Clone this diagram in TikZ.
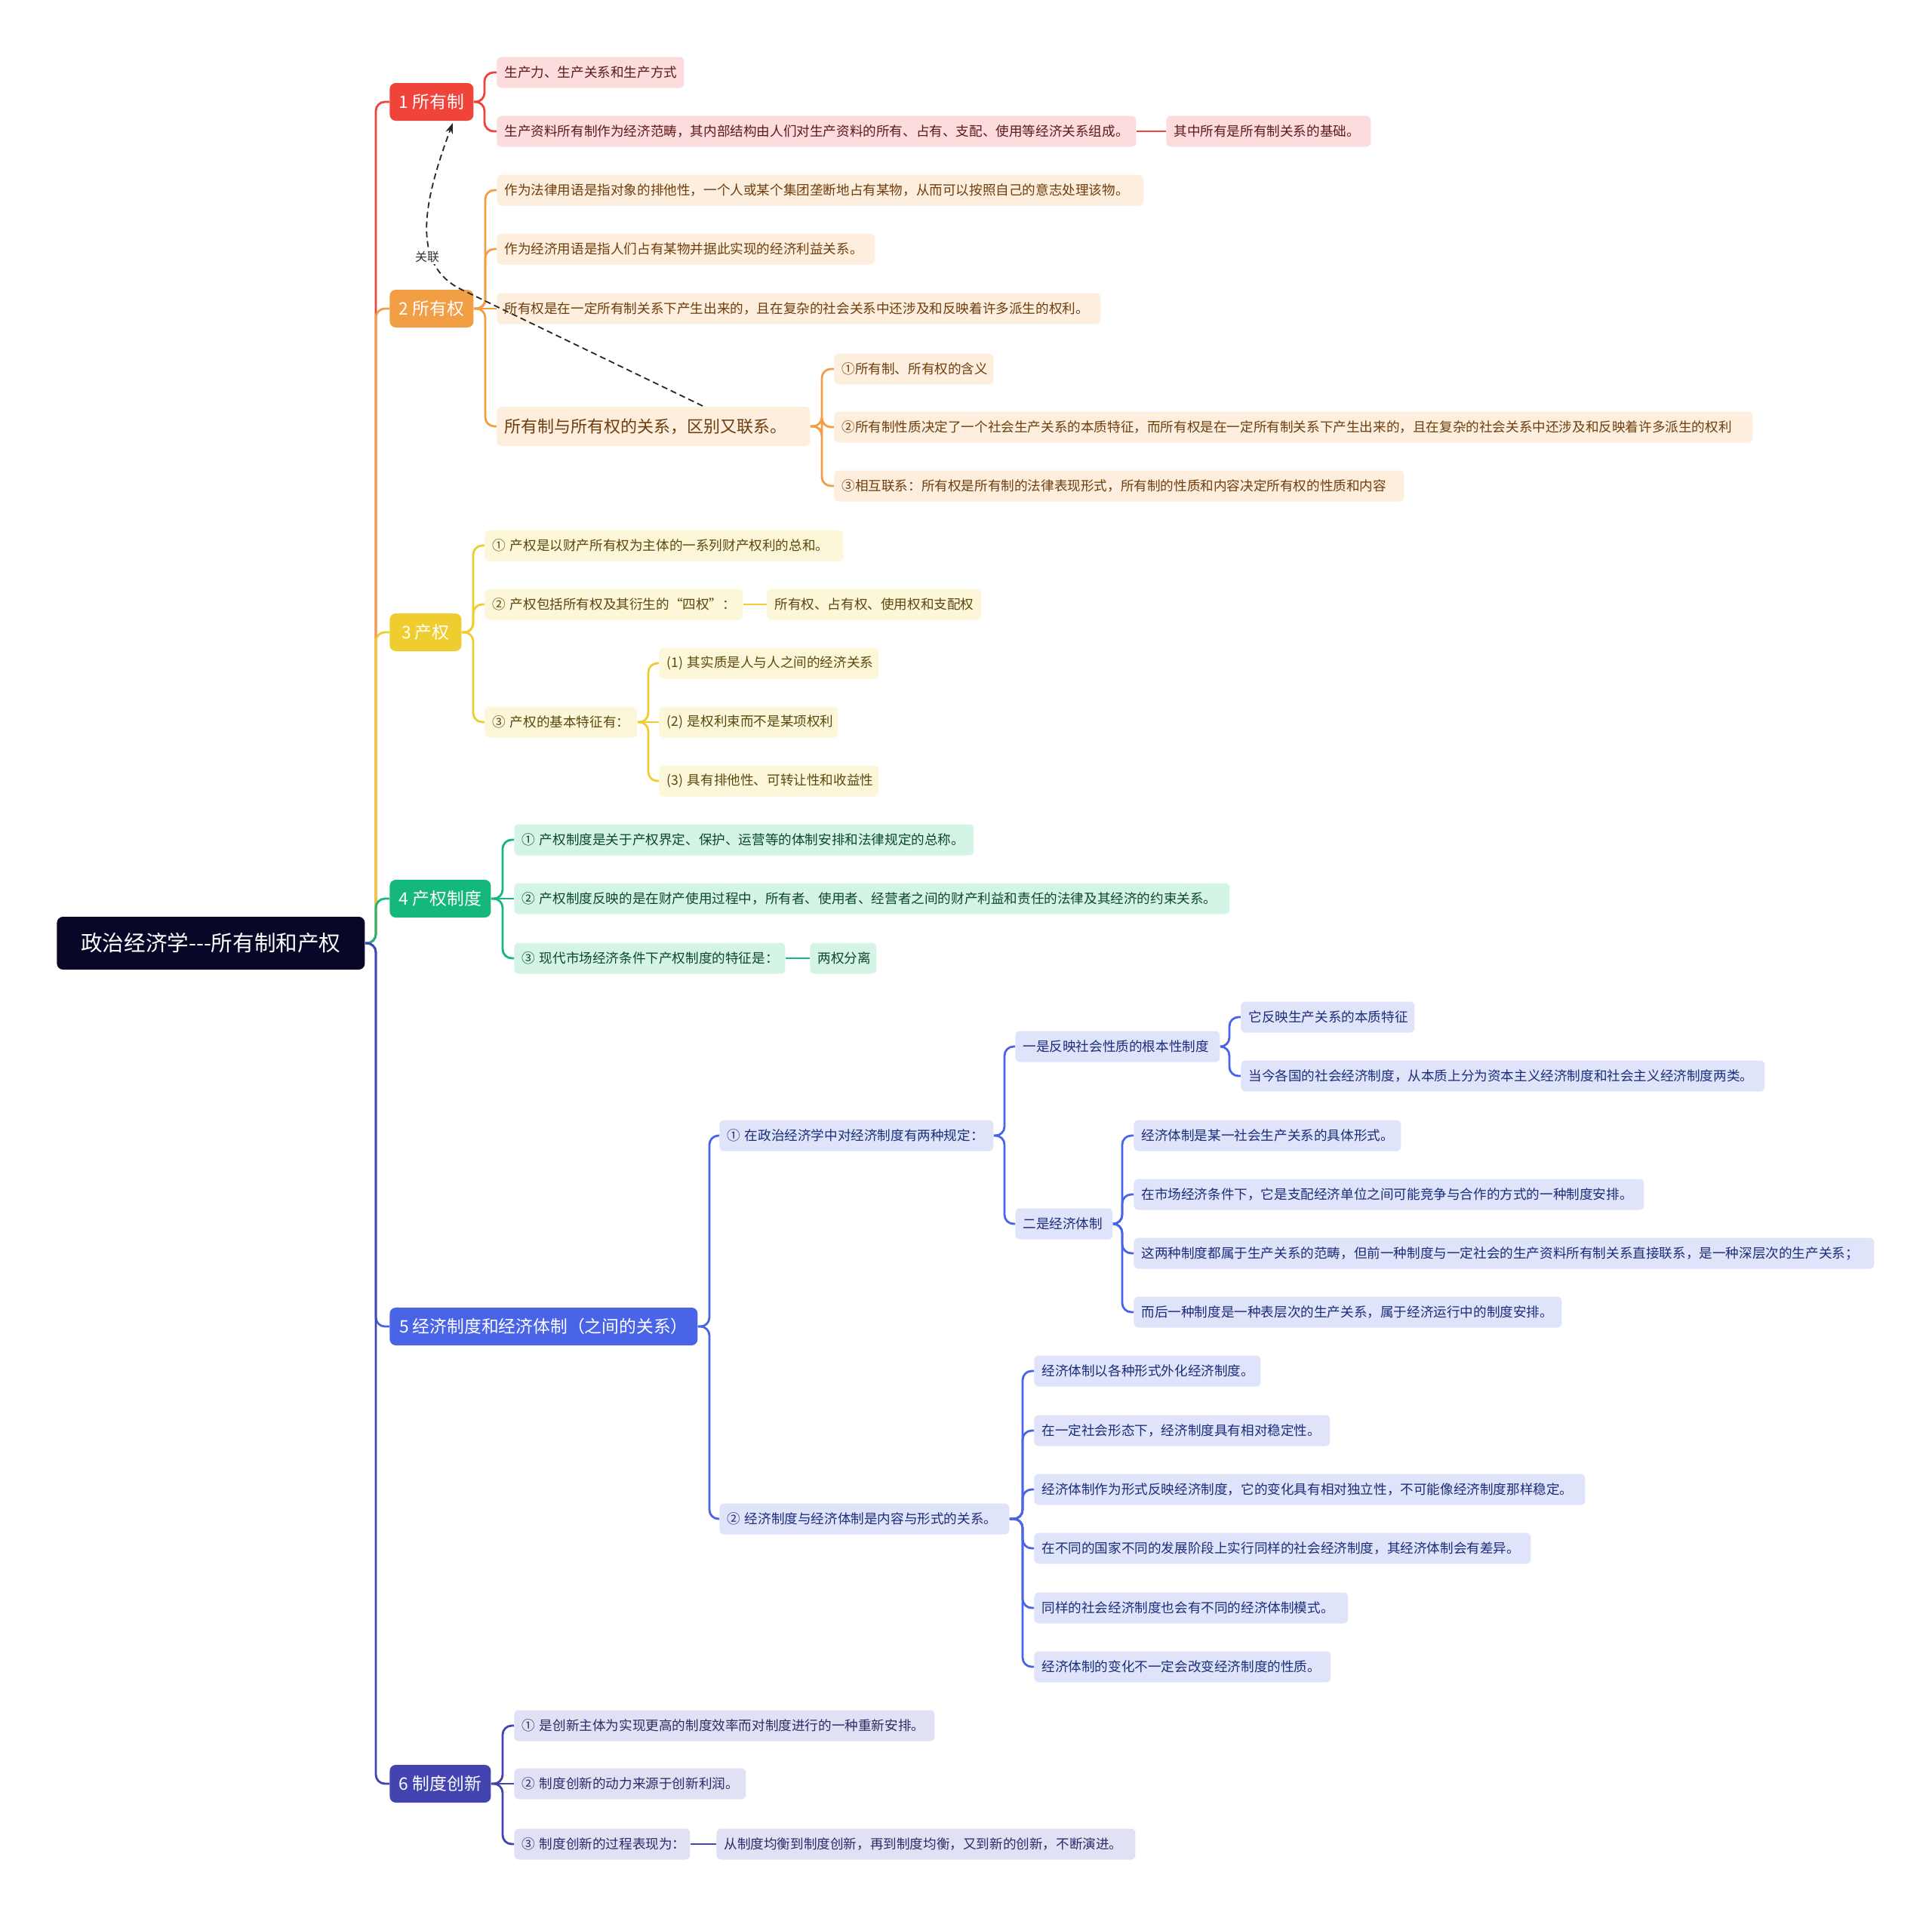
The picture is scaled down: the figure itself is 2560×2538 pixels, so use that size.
\documentclass[tikz,border=0pt]{standalone}
\usepackage{fontspec}
\setmainfont{Noto Sans CJK SC}
\usetikzlibrary{arrows.meta}
\definecolor{cR}{HTML}{F0433A}\definecolor{fR}{HTML}{FCDCDC}\definecolor{tR}{HTML}{5E1A1A}
\definecolor{cO}{HTML}{F29E45}\definecolor{fO}{HTML}{FDEEDD}\definecolor{tO}{HTML}{6E3E0E}
\definecolor{cY}{HTML}{F0CD2E}\definecolor{fY}{HTML}{FDF7DA}\definecolor{tY}{HTML}{5A480C}
\definecolor{cG}{HTML}{14B87C}\definecolor{fG}{HTML}{D4F5E6}\definecolor{tG}{HTML}{0C4632}
\definecolor{cB}{HTML}{4A64E8}\definecolor{fB}{HTML}{DFE4FB}\definecolor{tB}{HTML}{1C2D78}
\definecolor{cI}{HTML}{4444B0}\definecolor{fI}{HTML}{E1E1F5}\definecolor{tI}{HTML}{2B2B66}
\definecolor{rootc}{HTML}{070727}
\begin{document}
\begin{tikzpicture}[x=0.5pt,y=-0.5pt,
  wd/.style={minimum width=#1*0.5pt},
  lw/.style={text width=#1*0.5pt-10pt},
  leaf/.style={anchor=west, rounded corners=3pt, inner xsep=5pt, inner ysep=0pt, minimum height=20.5pt, align=left, font=\fontsize{8.8}{10}\selectfont},
  br/.style={anchor=west, rounded corners=4pt, inner xsep=4pt, inner ysep=0pt, minimum height=25pt, text=white, font=\fontsize{11.4}{13}\selectfont},
  lR/.style={leaf, fill=fR, text=tR}, lO/.style={leaf, fill=fO, text=tO},
  lY/.style={leaf, fill=fY, text=tY}, lG/.style={leaf, fill=fG, text=tG},
  lB/.style={leaf, fill=fB, text=tB}, lI/.style={leaf, fill=fI, text=tI},
  ln/.style={line width=1.4pt, rounded corners=6pt},
  rel/.style={line width=0.9pt, draw=black!85, dash pattern=on 4pt off 2.5pt, -{Stealth[length=7pt,width=5pt]}}
]
\useasboundingbox[fill=white] (0,0) rectangle (2560,2538);

% trunk coordinates
\coordinate (t0) at (498,0);
\coordinate (t1) at (642,0);
\coordinate (t2) at (643,0);
\coordinate (t2d) at (1089,0);
\coordinate (t3) at (627,0);
\coordinate (t3c) at (859,0);
\coordinate (t4) at (666,0);
\coordinate (t5) at (940,0);
\coordinate (t5a) at (1331,0);
\coordinate (t5a1) at (1629,0);
\coordinate (t5a2) at (1487,0);
\coordinate (t5b) at (1355,0);
\coordinate (t6) at (666,0);

% root and branches
\node[anchor=west, fill=rootc, text=white, rounded corners=4pt, inner sep=0pt, minimum height=35pt, wd=408, font=\fontsize{14.3}{16}\selectfont] (root) at (75,1250) {政治经济学-{}-{}-所有制和产权};
\node[br, fill=cR, wd=111] (b1) at (516,135) {1 所有制};
\node[br, fill=cO, wd=111] (b2) at (516,409) {2 所有权};
\node[br, fill=cY, wd=95] (b3) at (516,838) {3 产权};
\node[br, fill=cG, wd=134] (b4) at (516,1191) {4 产权制度};
\node[br, fill=cB, wd=408] (b5) at (516,1758) {5 经济制度和经济体制（之间的关系）};
\node[br, fill=cI, wd=134] (b6) at (516,2364) {6 制度创新};

% branch 1
\node[lR, lw=248] (l1a) at (658,96) {生产力、生产关系和生产方式};
\node[lR, lw=847] (l1b) at (658,174) {生产资料所有制作为经济范畴，其内部结构由人们对生产资料的所有、占有、支配、使用等经济关系组成。};
\node[lR, lw=271] (l1c) at (1545,174) {其中所有是所有制关系的基础。};

% branch 2
\node[lO, lw=857] (l2a) at (658,252) {作为法律用语是指对象的排他性，一个人或某个集团垄断地占有某物，从而可以按照自己的意志处理该物。};
\node[lO, lw=501] (l2b) at (658,330) {作为经济用语是指人们占有某物并据此实现的经济利益关系。};
\node[lO, lw=800] (l2c) at (658,409) {所有权是在一定所有制关系下产生出来的，且在复杂的社会关系中还涉及和反映着许多派生的权利。};
\node[lO, lw=415, minimum height=26pt, font=\fontsize{11}{13}\selectfont] (l2d) at (658,565) {所有制与所有权的关系，区别又联系。};
\node[lO, lw=211] (l2d1) at (1105,489) {①所有制、所有权的含义};
\node[lO, lw=1217] (l2d2) at (1105,566) {②所有制性质决定了一个社会生产关系的本质特征，而所有权是在一定所有制关系下产生出来的，且在复杂的社会关系中还涉及和反映着许多派生的权利};
\node[lO, lw=755] (l2d3) at (1105,644) {③相互联系：所有权是所有制的法律表现形式，所有制的性质和内容决定所有权的性质和内容};

% branch 3
\node[lY, lw=475] (l3a) at (642,723) {①~产权是以财产所有权为主体的一系列财产权利的总和。};
\node[lY, lw=342] (l3b) at (642,801) {②~产权包括所有权及其衍生的“四权”：};
\node[lY, lw=284] (l3b1) at (1016,801) {所有权、占有权、使用权和支配权};
\node[lY, lw=202] (l3c) at (642,957) {③~产权的基本特征有：};
\node[lY, lw=291] (l3c1) at (873,879) {(1)~其实质是人与人之间的经济关系};
\node[lY, lw=237] (l3c2) at (873,957) {(2)~是权利束而不是某项权利};
\node[lY, lw=291] (l3c3) at (873,1035) {(3)~具有排他性、可转让性和收益性};

% branch 4
\node[lG, lw=609] (l4a) at (681,1113) {①~产权制度是关于产权界定、保护、运营等的体制安排和法律规定的总称。};
\node[lG, lw=948] (l4b) at (681,1191) {②~产权制度反映的是在财产使用过程中，所有者、使用者、经营者之间的财产利益和责任的法律及其经济的约束关系。};
\node[lG, lw=359] (l4c) at (681,1270) {③~现代市场经济条件下产权制度的特征是：};
\node[lG, lw=88] (l4c1) at (1073,1270) {两权分离};

% branch 5
\node[lB, lw=363] (l5a) at (953,1505) {①~在政治经济学中对经济制度有两种规定：};
\node[lB, lw=271] (l5a1) at (1345,1387) {一是反映社会性质的根本性制度};
\node[lB, lw=230] (l5a1a) at (1644,1348) {它反映生产关系的本质特征};
\node[lB, lw=694] (l5a1b) at (1644,1426) {当今各国的社会经济制度，从本质上分为资本主义经济制度和社会主义经济制度两类。};
\node[lB, lw=129] (l5a2) at (1345,1622) {二是经济体制};
\node[lB, lw=354] (l5a2a) at (1502,1505) {经济体制是某一社会生产关系的具体形式。};
\node[lB, lw=676] (l5a2b) at (1502,1583) {在市场经济条件下，它是支配经济单位之间可能竞争与合作的方式的一种制度安排。};
\node[lB, lw=981] (l5a2c) at (1502,1661) {这两种制度都属于生产关系的范畴，但前一种制度与一定社会的生产资料所有制关系直接联系，是一种深层次的生产关系；};
\node[lB, lw=567] (l5a2d) at (1502,1739) {而后一种制度是一种表层次的生产关系，属于经济运行中的制度安排。};
\node[lB, lw=384] (l5b) at (953,2013) {②~经济制度与经济体制是内容与形式的关系。};
\node[lB, lw=300] (l5b1) at (1370,1817) {经济体制以各种形式外化经济制度。};
\node[lB, lw=392] (l5b2) at (1370,1896) {在一定社会形态下，经济制度具有相对稳定性。};
\node[lB, lw=730] (l5b3) at (1370,1974) {经济体制作为形式反映经济制度，它的变化具有相对独立性，不可能像经济制度那样稳定。};
\node[lB, lw=658] (l5b4) at (1370,2052) {在不同的国家不同的发展阶段上实行同样的社会经济制度，其经济体制会有差异。};
\node[lB, lw=416] (l5b5) at (1370,2131) {同样的社会经济制度也会有不同的经济体制模式。};
\node[lB, lw=393] (l5b6) at (1370,2209) {经济体制的变化不一定会改变经济制度的性质。};

% branch 6
\node[lI, lw=557] (l6a) at (681,2287) {①~是创新主体为实现更高的制度效率而对制度进行的一种重新安排。};
\node[lI, lw=307] (l6b) at (681,2364) {②~制度创新的动力来源于创新利润。};
\node[lI, lw=233] (l6c) at (681,2444) {③~制度创新的过程表现为：};
\node[lI, lw=555] (l6c1) at (949,2444) {从制度均衡到制度创新，再到制度均衡，又到新的创新，不断演进。};

% root connectors
\draw[ln, draw=cR] (root.east) -- (root.east -| t0) |- (b1.west);
\draw[ln, draw=cO] (root.east) -- (root.east -| t0) |- (b2.west);
\draw[ln, draw=cY] (root.east) -- (root.east -| t0) |- (b3.west);
\draw[ln, draw=cG] (root.east) -- (root.east -| t0) |- (b4.west);
\draw[ln, draw=cB] (root.east) -- (root.east -| t0) |- (b5.west);
\draw[ln, draw=cI] (root.east) -- (root.east -| t0) |- (b6.west);

% branch 1 connectors
\foreach \n in {l1a,l1b} \draw[ln, draw=cR] (b1.east) -- (b1.east -| t1) |- (\n.west);
\draw[ln, draw=cR] (l1b.east) -- (l1c.west);

% branch 2 connectors
\foreach \n in {l2a,l2b,l2d} \draw[ln, draw=cO] (b2.east) -- (b2.east -| t2) |- (\n.west);
\draw[ln, draw=cO] (b2.east) -- (l2c.west);
\foreach \n in {l2d1,l2d2,l2d3} \draw[ln, draw=cO] (l2d.east) -- (l2d.east -| t2d) |- (\n.west);

% branch 3 connectors
\foreach \n in {l3a,l3b,l3c} \draw[ln, draw=cY] (b3.east) -- (b3.east -| t3) |- (\n.west);
\draw[ln, draw=cY] (l3b.east) -- (l3b1.west);
\foreach \n in {l3c1,l3c3} \draw[ln, draw=cY] (l3c.east) -- (l3c.east -| t3c) |- (\n.west);
\draw[ln, draw=cY] (l3c.east) -- (l3c2.west);

% branch 4 connectors
\foreach \n in {l4a,l4c} \draw[ln, draw=cG] (b4.east) -- (b4.east -| t4) |- (\n.west);
\draw[ln, draw=cG] (b4.east) -- (l4b.west);
\draw[ln, draw=cG] (l4c.east) -- (l4c1.west);

% branch 5 connectors
\foreach \n in {l5a,l5b} \draw[ln, draw=cB] (b5.east) -- (b5.east -| t5) |- (\n.west);
\foreach \n in {l5a1,l5a2} \draw[ln, draw=cB] (l5a.east) -- (l5a.east -| t5a) |- (\n.west);
\foreach \n in {l5a1a,l5a1b} \draw[ln, draw=cB] (l5a1.east) -- (l5a1.east -| t5a1) |- (\n.west);
\foreach \n in {l5a2a,l5a2b,l5a2c,l5a2d} \draw[ln, draw=cB] (l5a2.east) -- (l5a2.east -| t5a2) |- (\n.west);
\foreach \n in {l5b1,l5b2,l5b3,l5b4,l5b5,l5b6} \draw[ln, draw=cB] (l5b.east) -- (l5b.east -| t5b) |- (\n.west);

% branch 6 connectors
\foreach \n in {l6a,l6c} \draw[ln, draw=cI] (b6.east) -- (b6.east -| t6) |- (\n.west);
\draw[ln, draw=cI] (b6.east) -- (l6b.west);
\draw[ln, draw=cI] (l6c.east) -- (l6c1.west);

% relation arrow
\coordinate (rs) at (931,538);
\coordinate (rm) at (610,383);
\coordinate (re) at (600,163);
\draw[rel] (rs) -- (rm) .. controls (545,350) and (560,270) .. (re);
\node[fill=white, inner sep=1pt, text=black!80, font=\fontsize{8}{9}\selectfont] (lab) at (566,341) {关联};
\end{tikzpicture}
\end{document}
